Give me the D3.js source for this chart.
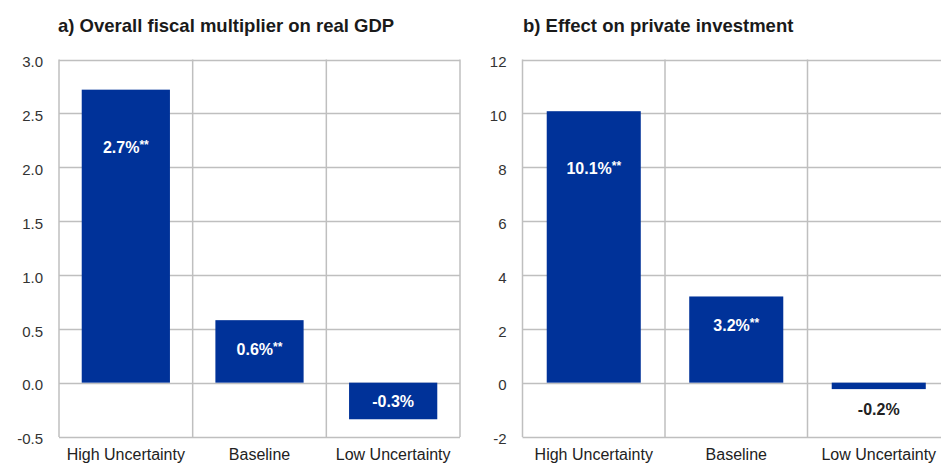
<!DOCTYPE html>
<html>
<head>
<meta charset="utf-8">
<script src="https://cdn.jsdelivr.net/npm/d3@7"></script>
<style>
  html, body { margin: 0; padding: 0; background: #fff; }
  svg { display: block; font-family: "Liberation Sans", Arial, sans-serif; }
</style>
</head>
<body>
<svg id="chart" width="941" height="464"></svg>
<script>
// Scenario categories shared by both panels
const categories = ["High Uncertainty", "Baseline", "Low Uncertainty"];

// Panel a: overall fiscal multiplier on real GDP (%)
const gdpValues = [2.72, 0.58, -0.34];
const gdpStars = ["**", "**", ""];
const gdpTicks = [-0.5, 0.0, 0.5, 1.0, 1.5, 2.0, 2.5, 3.0];

// Panel b: effect on private investment (%)
const invValues = [10.08, 3.2, -0.24];
const invStars = ["**", "**", ""];
const invTicks = [-2, 0, 2, 4, 6, 8, 10, 12];

const svg = d3.select("#chart");
const BLUE = "#003299";
const GRID = "#bfbfbf";
const FONT = "'Liberation Sans', Arial, sans-serif";

// plain hyphen for negative numbers
const locale = d3.formatLocale({ decimal: ".", thousands: ",", grouping: [3], currency: ["", ""], minus: "-" });

function panel(opts) {
  const { title, values, stars, ticks, tickFmt, left, right, titleX } = opts;
  const top = 59.5, bottom = 436.5;

  const x = d3.scaleBand().domain(categories).range([left, right]).paddingInner(0).paddingOuter(0);
  const y = d3.scaleLinear().domain([ticks[0], ticks[ticks.length - 1]]).range([bottom, top]);
  const g = svg.append("g");

  // title
  g.append("text")
    .attr("x", titleX).attr("y", 32)
    .attr("font-size", 18.5).attr("font-weight", "bold").attr("fill", "#1a1a1a")
    .text(title);

  // horizontal gridlines
  g.append("g").selectAll("line").data(ticks).join("line")
    .attr("x1", left).attr("x2", right)
    .attr("y1", d => Math.round(y(d)) + 0.5).attr("y2", d => Math.round(y(d)) + 0.5)
    .attr("stroke", GRID).attr("stroke-width", 1.5);

  // vertical category separators and frame
  const edges = categories.map(c => x(c)).concat([right]);
  g.append("g").selectAll("line").data(edges).join("line")
    .attr("x1", d => d).attr("x2", d => d)
    .attr("y1", top).attr("y2", bottom + 0.5)
    .attr("stroke", GRID).attr("stroke-width", 1.5);

  // y axis tick labels
  const yAxis = d3.axisLeft(y).tickValues(ticks).tickFormat(tickFmt).tickSize(0).tickPadding(0);
  const ax = g.append("g").attr("transform", `translate(${left - 16},2.5)`).call(yAxis);
  ax.select(".domain").remove();
  ax.selectAll("text").attr("font-size", 15).attr("fill", "#333").attr("font-family", FONT);

  // x axis category labels
  const xAxis = d3.axisBottom(x).tickSize(0).tickPadding(0);
  const bx = g.append("g").attr("transform", `translate(0,${bottom + 12})`).call(xAxis);
  bx.select(".domain").remove();
  bx.selectAll("text").attr("font-size", 16).attr("fill", "#222").attr("font-family", FONT);

  // bars
  const bw = x.bandwidth() * 0.66;
  const data = categories.map((c, i) => ({ c, v: values[i], s: stars[i] }));
  g.append("g").selectAll("rect").data(data).join("rect")
    .attr("x", d => x(d.c) + (x.bandwidth() - bw) / 2)
    .attr("width", bw)
    .attr("y", d => y(Math.max(0, d.v)))
    .attr("height", d => Math.abs(y(d.v) - y(0)))
    .attr("fill", BLUE);

  // value labels
  const fmt = locale.format(".1f");
  const small = d => d.v < 0 && Math.abs(y(d.v) - y(0)) <= 25;
  const labels = g.append("g").selectAll("text").data(data).join("text")
    .attr("x", d => x(d.c) + x.bandwidth() / 2)
    .attr("y", d => {
      const h = Math.abs(y(d.v) - y(0));
      if (d.v >= 0) return y(d.v) + (h > 150 ? 57 : 29) + 6;
      if (!small(d)) return (y(d.v) + y(0)) / 2 + 6;
      return y(d.v) + 26;
    })
    .attr("text-anchor", "middle")
    .attr("font-size", 16).attr("font-weight", "bold")
    .attr("fill", d => small(d) ? "#222" : "#fff");
  labels.append("tspan").text(d => fmt(d.v) + "%");
  labels.append("tspan").attr("font-size", 12).attr("dy", -4).text(d => d.s);
}

panel({
  title: "a) Overall fiscal multiplier on real GDP",
  values: gdpValues, stars: gdpStars, ticks: gdpTicks, tickFmt: locale.format(".1f"),
  left: 59, right: 460, titleX: 58
});

panel({
  title: "b) Effect on private investment",
  values: invValues, stars: invStars, ticks: invTicks, tickFmt: locale.format("d"),
  left: 522.5, right: 950, titleX: 523
});
</script>
</body>
</html>
